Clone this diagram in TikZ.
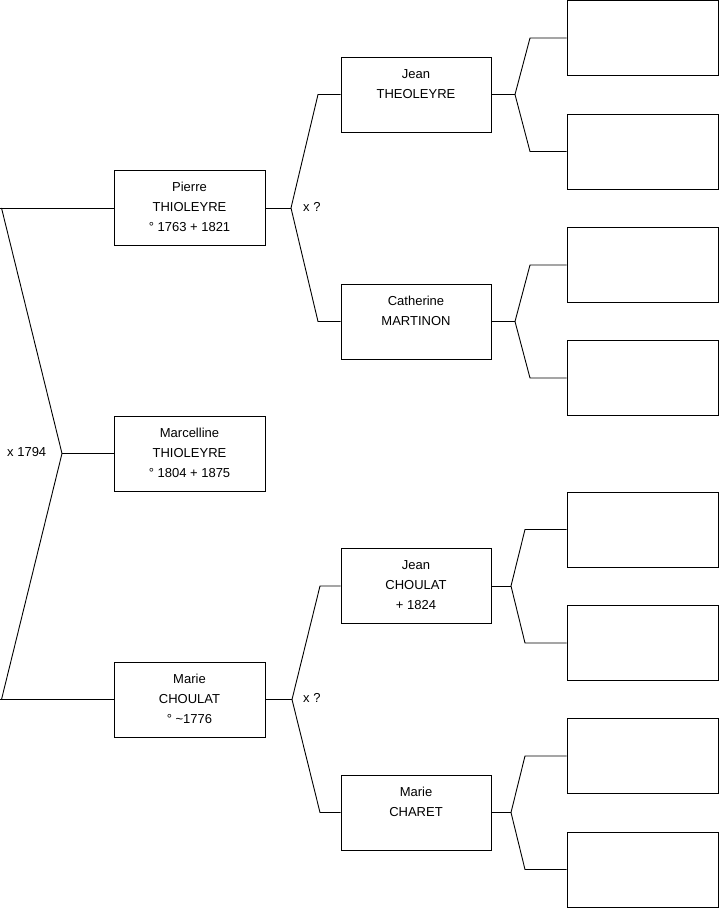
\documentclass[tikz,border=0pt]{standalone}
\usepackage{fontspec}
\setmainfont{Liberation Sans}
\begin{document}
\begin{tikzpicture}[x=1pt,y=1pt,
  every node/.style={font=\fontsize{13}{20}\selectfont},
  pbox/.style={draw=black, line width=0.9pt, minimum width=151pt, minimum height=75pt, inner sep=0pt, align=center, anchor=center},
  conn/.style={draw=black, line width=0.9pt},
  lbl/.style={anchor=west, inner sep=0pt}]
\useasboundingbox (0,0) rectangle (719,908);
% column 1
\node[pbox] (pierre) at (189.5,700) {\strut Pierre\\\strut THIOLEYRE\\\strut ° 1763 + 1821};
\node[pbox] (marc) at (189.5,454.5) {\strut Marcelline\\\strut THIOLEYRE\\\strut ° 1804 + 1875};
\node[pbox] (marie) at (189.5,208.5) {\strut Marie\\\strut CHOULAT\\\strut ° \textasciitilde1776};
% column 2
\node[pbox, minimum width=150pt] (jeant) at (416,813.5) {\strut Jean\\\strut THEOLEYRE\\\strut};
\node[pbox, minimum width=150pt] (cath) at (416,586.5) {\strut Catherine\\\strut MARTINON\\\strut};
\node[pbox, minimum width=150pt] (jeanc) at (416,322) {\strut Jean\\\strut CHOULAT\\\strut + 1824};
\node[pbox, minimum width=150pt] (mariech) at (416,95.5) {\strut Marie\\\strut CHARET\\\strut};
% column 3
\node[pbox] (e1) at (642.5,870) {};
\node[pbox] (e2) at (642.5,756.5) {};
\node[pbox] (e3) at (642.5,643) {};
\node[pbox] (e4) at (642.5,530) {};
\node[pbox] (e5) at (642.5,378.5) {};
\node[pbox] (e6) at (642.5,265) {};
\node[pbox] (e7) at (642.5,152) {};
\node[pbox] (e8) at (642.5,38.5) {};
% left bracket
\coordinate (l1) at (0,700);
\coordinate (l1b) at (1.5,700);
\coordinate (lv) at (62,454.5);
\coordinate (l3) at (0,208.5);
\coordinate (l3b) at (1.5,208.5);
\draw[conn] (l1) -- (pierre.west);
\draw[conn] (l1b) -- (lv) -- (l3b);
\draw[conn] (lv) -- (marc.west);
\draw[conn] (l3) -- (marie.west);
\node[lbl] (xm) at (7,456) {x 1794};
% pierre group
\coordinate (pv) at (291,700);
\draw[conn] (pierre.east) -- (pv);
\draw[conn] (jeant.west) -- (318,813.5) -- (pv) -- (318,586.5) -- (cath.west);
\node[lbl] (xp) at (303,701) {x ?};
% marie group
\coordinate (mv) at (292,208.5);
\draw[conn] (marie.east) -- (mv);
\draw[conn] (jeanc.west) -- (320,322) -- (mv) -- (320,95.5) -- (mariech.west);
\node[lbl] (xq) at (303,210) {x ?};
% third generation
\coordinate (jtv) at (515,813.5);
\draw[conn] (jeant.east) -- (jtv);
\draw[conn] (e1.west) -- (530,870) -- (jtv) -- (530,756.5) -- (e2.west);
\coordinate (cv) at (515,586.5);
\draw[conn] (cath.east) -- (cv);
\draw[conn] (e3.west) -- (530,643) -- (cv) -- (530,530) -- (e4.west);
\coordinate (jcv) at (511,322);
\draw[conn] (jeanc.east) -- (jcv);
\draw[conn] (e5.west) -- (525,378.5) -- (jcv) -- (525,265) -- (e6.west);
\coordinate (mcv) at (511,95.5);
\draw[conn] (mariech.east) -- (mcv);
\draw[conn] (e7.west) -- (525,152) -- (mcv) -- (525,38.5) -- (e8.west);
\end{tikzpicture}
\end{document}
